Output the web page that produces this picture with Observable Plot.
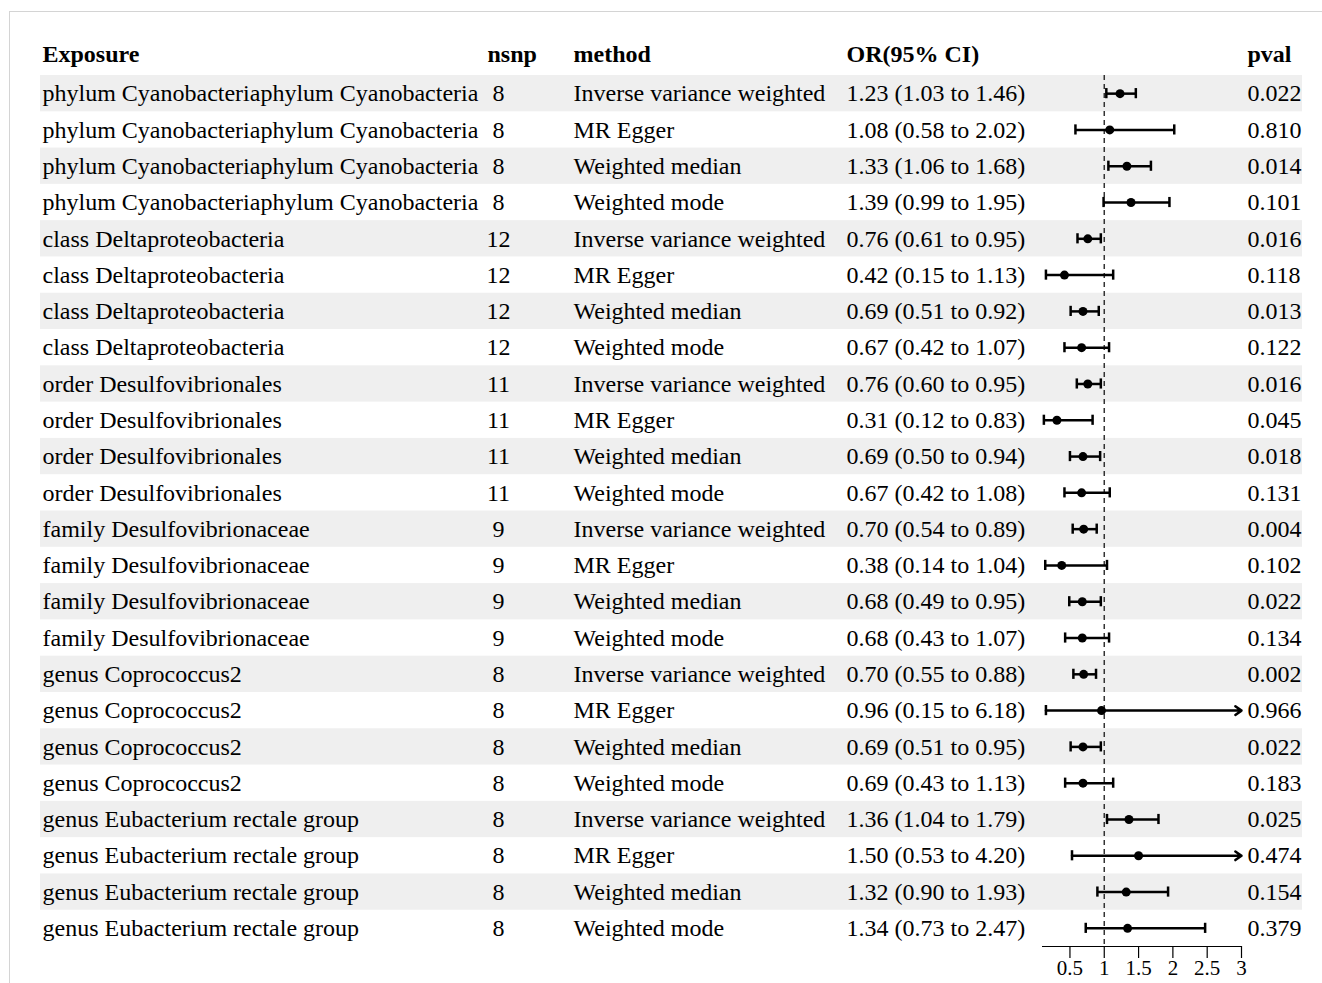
<!DOCTYPE html>
<html>
<head>
<meta charset="utf-8">
<script src="https://cdn.jsdelivr.net/npm/d3@7"></script>
<script src="https://cdn.jsdelivr.net/npm/@observablehq/plot@0.6"></script>
<style>
  html, body { margin: 0; padding: 0; background: #fff; }
  #wrap { position: relative; width: 1322px; height: 983px; overflow: hidden; }
  #wrap svg { position: absolute; left: 0; top: 0; }
  #border { position: absolute; left: 9px; top: 11px; right: 0; bottom: 0;
            border-left: 1px solid #d4d4d4; border-top: 1px solid #d4d4d4; }
</style>
</head>
<body>
<div id="wrap"><div id="border"></div></div>
<script>
const headers = ["Exposure", "nsnp", "method", "OR(95% CI)", "pval"];

const exposure = [
  "phylum Cyanobacteriaphylum Cyanobacteria", "phylum Cyanobacteriaphylum Cyanobacteria",
  "phylum Cyanobacteriaphylum Cyanobacteria", "phylum Cyanobacteriaphylum Cyanobacteria",
  "class Deltaproteobacteria", "class Deltaproteobacteria", "class Deltaproteobacteria", "class Deltaproteobacteria",
  "order Desulfovibrionales", "order Desulfovibrionales", "order Desulfovibrionales", "order Desulfovibrionales",
  "family Desulfovibrionaceae", "family Desulfovibrionaceae", "family Desulfovibrionaceae", "family Desulfovibrionaceae",
  "genus Coprococcus2", "genus Coprococcus2", "genus Coprococcus2", "genus Coprococcus2",
  "genus Eubacterium rectale group", "genus Eubacterium rectale group", "genus Eubacterium rectale group", "genus Eubacterium rectale group"
];
const nsnp = [8, 8, 8, 8, 12, 12, 12, 12, 11, 11, 11, 11, 9, 9, 9, 9, 8, 8, 8, 8, 8, 8, 8, 8];
const methodNames = ["Inverse variance weighted", "MR Egger", "Weighted median", "Weighted mode"];
const method = exposure.map((_, i) => methodNames[i % 4]);
const orv = [1.23, 1.08, 1.33, 1.39, 0.76, 0.42, 0.69, 0.67, 0.76, 0.31, 0.69, 0.67,
             0.70, 0.38, 0.68, 0.68, 0.70, 0.96, 0.69, 0.69, 1.36, 1.50, 1.32, 1.34];
const lo  = [1.03, 0.58, 1.06, 0.99, 0.61, 0.15, 0.51, 0.42, 0.60, 0.12, 0.50, 0.42,
             0.54, 0.14, 0.49, 0.43, 0.55, 0.15, 0.51, 0.43, 1.04, 0.53, 0.90, 0.73];
const hi  = [1.46, 2.02, 1.68, 1.95, 0.95, 1.13, 0.92, 1.07, 0.95, 0.83, 0.94, 1.08,
             0.89, 1.04, 0.95, 1.07, 0.88, 6.18, 0.95, 1.13, 1.79, 4.20, 1.93, 2.47];
const pval = ["0.022", "0.810", "0.014", "0.101", "0.016", "0.118", "0.013", "0.122",
              "0.016", "0.045", "0.018", "0.131", "0.004", "0.102", "0.022", "0.134",
              "0.002", "0.966", "0.022", "0.183", "0.025", "0.474", "0.154", "0.379"];
const xTicks = [0.5, 1, 1.5, 2, 2.5, 3];
const xMin = 0.1, xMax = 3;

const rows = exposure.map((e, i) => ({
  i, exposure: e, nsnp: nsnp[i], method: method[i], or: orv[i], lo: lo[i], hi: hi[i], pval: pval[i],
  ortext: `${orv[i].toFixed(2)} (${lo[i].toFixed(2)} to ${hi[i].toFixed(2)})`,
  clipped: hi[i] > xMax
}));
const inRange = rows.filter(d => !d.clipped);
const clippedRows = rows.filter(d => d.clipped);
const striped = rows.filter(d => d.i % 2 === 0);

const font = "'Liberation Serif', 'Times New Roman', serif";
const fs = 24;
const cap = 0.14;
const colDx = [2, 447, 533, 806, 1207];

const textCol = (field, dx, anchor) => Plot.text(rows, {
  y: "i", text: field, frameAnchor: "left", dx, textAnchor: anchor,
  fill: "black", fontSize: fs, lineAnchor: "middle"
});

const chart = Plot.plot({
  width: 1322,
  height: 983,
  marginLeft: 40,
  marginRight: 20,
  marginTop: 75,
  marginBottom: 37,
  x: {domain: [xMin, xMax], range: [1042, 1241], axis: null},
  y: {domain: [-0.5, 23.5], range: [75, 946], axis: null},
  style: {fontFamily: font, fontSize: fs + "px", background: "transparent", overflow: "visible"},
  marks: [
    Plot.rect(striped, {y1: d => d.i - 0.5, y2: d => d.i + 0.5, fill: "#efefef"}),
    // headers
    ...headers.map((h, k) => Plot.text([h], {
      frameAnchor: "top-left", dx: colDx[k], dy: -21, textAnchor: "start", lineAnchor: "middle",
      fontWeight: "bold", fontSize: fs, fill: "black"
    })),
    textCol("exposure", colDx[0], "start"),
    textCol("nsnp", 458, "middle"),
    textCol("method", colDx[2], "start"),
    textCol("ortext", colDx[3], "start"),
    textCol("pval", colDx[4], "start"),
    // reference line
    Plot.ruleX([1], {stroke: "#333", strokeWidth: 1.5, strokeDasharray: "5,4"}),
    // CI lines
    Plot.link(inRange, {x1: "lo", x2: "hi", y1: "i", y2: "i", stroke: "black", strokeWidth: 2.5}),
    Plot.arrow(clippedRows, {x1: "lo", x2: () => xMax, y1: "i", y2: "i", stroke: "black",
      strokeWidth: 2.5, headLength: 4.5, headAngle: 70}),
    // caps
    Plot.ruleX(rows, {x: "lo", y1: d => d.i - cap, y2: d => d.i + cap, stroke: "black", strokeWidth: 2.5}),
    Plot.ruleX(inRange, {x: "hi", y1: d => d.i - cap, y2: d => d.i + cap, stroke: "black", strokeWidth: 2.5}),
    // points
    Plot.dot(rows, {x: "or", y: "i", r: 4.5, fill: "black", stroke: "none"}),
    // axis
    Plot.ruleY([23.5], {x1: xMin, x2: xMax, stroke: "black", strokeWidth: 1.2}),
    Plot.axisX({ticks: xTicks, anchor: "bottom", tickSize: 12, tickPadding: 2, fontSize: 21,
      stroke: "black", strokeWidth: 1.2, fill: "black", tickFormat: d => String(d)})
  ]
});
document.getElementById("wrap").appendChild(chart);
</script>
</body>
</html>
